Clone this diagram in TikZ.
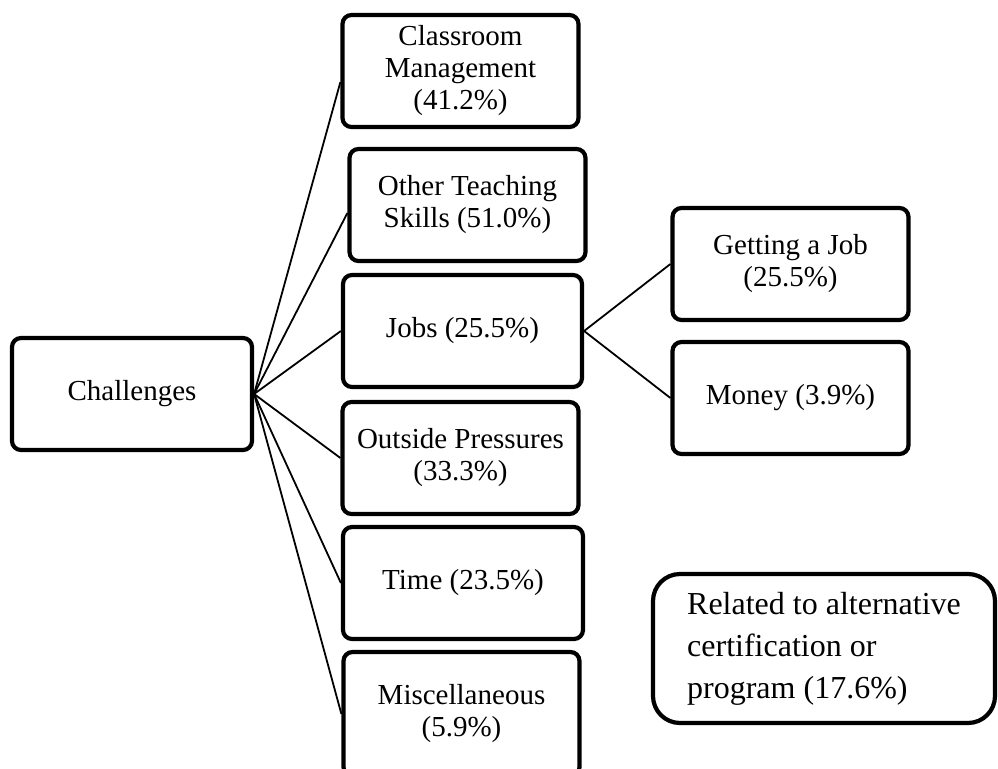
\documentclass[tikz,border=0pt]{standalone}
\usepackage{fontspec}
\setmainfont{Liberation Serif}
\usetikzlibrary{calc}

\begin{document}
\begin{tikzpicture}[x=1pt, y=-1pt,
  box/.style={draw, line width=4.2pt, rounded corners=9pt, align=center, minimum width=236pt, minimum height=112pt, inner sep=2pt, font=\fontsize{29}{32}\selectfont},
  link/.style={line width=1.8pt}]
  \useasboundingbox (0,0) rectangle (998,768);
  % parent
  \node[box, minimum width=240pt] (chal) at (132,394) {Challenges};
  % children
  \node[box] (cm) at (460.5,71) {Classroom\\Management\\(41.2\%)};
  \node[box] (ots) at (467.5,205) {Other Teaching\\Skills (51.0\%)};
  \node[box, minimum width=239pt] (jobs) at (462.5,331) {Jobs (25.5\%)};
  \node[box] (op) at (460.5,458) {Outside Pressures\\(33.3\%)};
  \node[box, minimum width=240pt] (time) at (463,583) {Time (23.5\%)};
  \node[box, minimum height=124pt] (misc) at (461.5,714) {Miscellaneous\\(5.9\%)};
  % jobs split
  \node[box] (gaj) at (790.5,264) {Getting a Job\\(25.5\%)};
  \node[box] (money) at (790.5,398) {Money (3.9\%)};
  % note
  \node[draw, line width=4.2pt, rounded corners=27pt, align=left, minimum width=342pt, minimum height=149pt, font=\fontsize{32}{42}\selectfont] (related) at (824,648.5) {Related to alternative\\certification or\\program (17.6\%)};
  % connectors
  \draw[link] (chal.east) -- ($(cm.west)+(0,11)$);
  \draw[link] (chal.east) -- ($(ots.west)+(0,8)$);
  \foreach \kid in {jobs,op,time,misc}
    \draw[link] (chal.east) -- (\kid.west);
  \draw[link] (jobs.east) -- (gaj.west);
  \draw[link] (jobs.east) -- (money.west);
\end{tikzpicture}
\end{document}
